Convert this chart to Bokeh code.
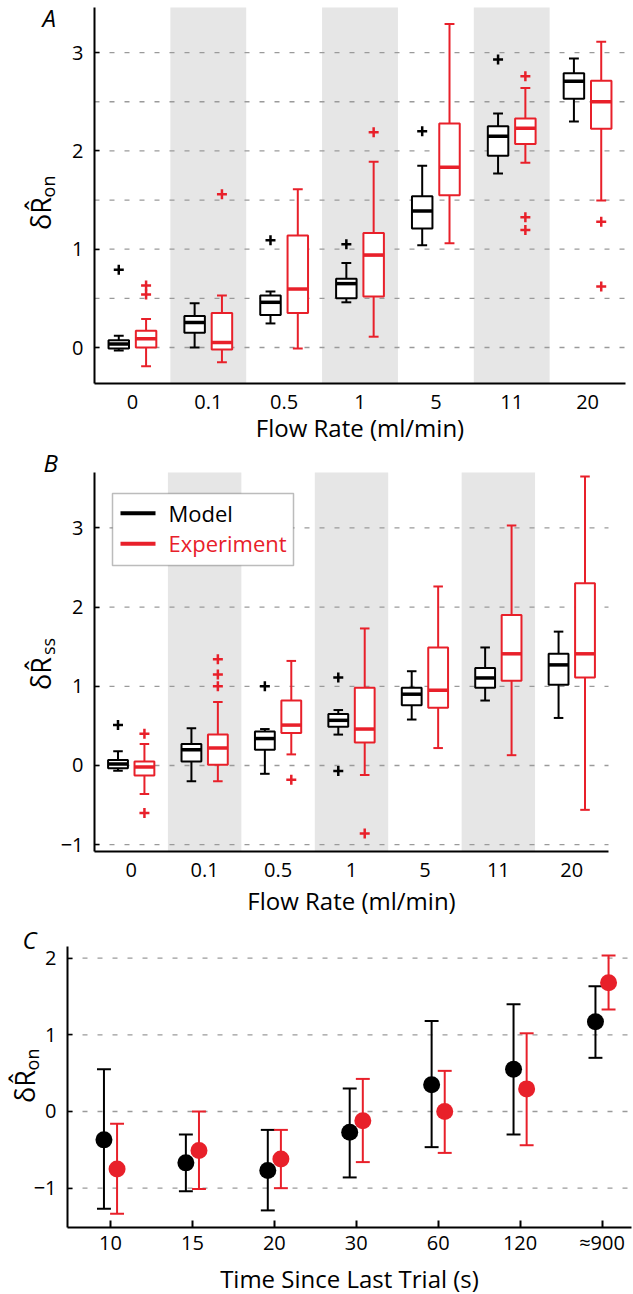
from math import pi
from bokeh.plotting import figure
from bokeh.models import Range1d, FixedTicker, BoxAnnotation, Label
from bokeh.layouts import column
from bokeh.embed import file_html
from bokeh.resources import INLINE

# ---------------- data ----------------
flow_rates = ["0", "0.1", "0.5", "1", "5", "11", "20"]

# Panel A  (dR_on vs flow rate) box statistics
a_model_lo = [-0.03, 0.00, 0.245, 0.46, 1.04, 1.77, 2.30]
a_model_q1 = [-0.01, 0.15, 0.33, 0.50, 1.21, 1.95, 2.53]
a_model_med = [0.035, 0.255, 0.46, 0.65, 1.39, 2.15, 2.71]
a_model_q3 = [0.075, 0.32, 0.53, 0.70, 1.54, 2.25, 2.79]
a_model_hi = [0.12, 0.45, 0.57, 0.86, 1.85, 2.38, 2.94]
a_model_out = [[0.79], [], [1.09], [1.05], [2.20], [2.93], []]

a_exp_lo = [-0.19, -0.15, -0.01, 0.11, 1.06, 1.88, 1.495]
a_exp_q1 = [0.00, -0.02, 0.35, 0.52, 1.55, 2.07, 2.225]
a_exp_med = [0.09, 0.05, 0.595, 0.94, 1.835, 2.23, 2.50]
a_exp_q3 = [0.17, 0.35, 1.14, 1.165, 2.28, 2.33, 2.715]
a_exp_hi = [0.29, 0.53, 1.61, 1.89, 3.29, 2.64, 3.11]
a_exp_out = [[0.54, 0.63], [1.56], [], [2.19], [], [2.76, 1.325, 1.196], [1.28, 0.62]]

# Panel B  (dR_ss vs flow rate)
b_model_lo = [-0.065, -0.20, -0.105, 0.39, 0.58, 0.82, 0.60]
b_model_q1 = [-0.035, 0.05, 0.20, 0.49, 0.76, 0.98, 1.02]
b_model_med = [0.02, 0.20, 0.34, 0.57, 0.90, 1.105, 1.27]
b_model_q3 = [0.07, 0.27, 0.43, 0.65, 0.98, 1.23, 1.41]
b_model_hi = [0.18, 0.47, 0.46, 0.70, 1.19, 1.49, 1.69]
b_model_out = [[0.51], [], [1.00], [1.11, -0.07], [], [], []]

b_exp_lo = [-0.36, -0.20, 0.14, -0.12, 0.22, 0.13, -0.56]
b_exp_q1 = [-0.125, 0.01, 0.41, 0.29, 0.73, 1.07, 1.11]
b_exp_med = [-0.02, 0.22, 0.51, 0.46, 0.95, 1.41, 1.41]
b_exp_q3 = [0.05, 0.39, 0.82, 0.98, 1.49, 1.90, 2.30]
b_exp_hi = [0.27, 0.80, 1.32, 1.73, 2.26, 3.03, 3.65]
b_exp_out = [[0.40, -0.60], [1.00, 1.15, 1.34], [-0.18], [-0.86], [], [], []]

# Panel C  (dR_on vs time since last trial)
times = ["10", "15", "20", "30", "60", "120", "\u2248900"]
c_model_mean = [-0.37, -0.67, -0.77, -0.27, 0.35, 0.55, 1.17]
c_model_lo = [-1.27, -1.04, -1.29, -0.86, -0.465, -0.30, 0.70]
c_model_hi = [0.55, -0.30, -0.24, 0.30, 1.18, 1.40, 1.635]
c_exp_mean = [-0.75, -0.51, -0.62, -0.12, 0.00, 0.295, 1.68]
c_exp_lo = [-1.335, -1.01, -1.00, -0.66, -0.54, -0.44, 1.33]
c_exp_hi = [-0.16, 0.00, -0.24, 0.425, 0.53, 1.02, 2.035]

# ---------------- style ----------------
BLACK = "#000000"
RED = "#e8202a"
BAND = "#e6e6e6"
GRID = "#9a9a9a"
FONT = "Open Sans"
TICK_PX = "20px"
W = 633


class Panel:
    """A figure whose frame covers the whole canvas; positions given in page pixels."""

    def __init__(self, top, bottom, box_px, xlim, ylim, yticks, grid_ticks, xlabels, x_tick_in, x_standoff):
        self.top = top
        self.h = height = bottom - top
        l, r, t, b = box_px            # plot box in page pixels
        t -= top
        b -= top
        (x0, x1), (y0, y1) = xlim, ylim
        kx = (x1 - x0) / (r - l)
        ky = (y1 - y0) / (b - t)
        xr = (x0 - l * kx, x0 + (W - l) * kx)
        yr = (y0 - (height - b) * ky, y1 + t * ky)
        p = figure(width=W, height=height, x_range=Range1d(*xr), y_range=Range1d(*yr),
                   output_backend="svg", toolbar_location=None,
                   min_border_left=0, min_border_right=0, min_border_top=0, min_border_bottom=0)
        p.outline_line_color = None
        p.background_fill_color = "white"
        p.border_fill_color = "white"
        p.xgrid.visible = False
        p.ygrid.visible = False
        # dashed horizontal grid lines across the plot box only
        p.segment(x0=[x0] * len(grid_ticks), x1=[x1] * len(grid_ticks), y0=grid_ticks, y1=grid_ticks,
                  line_color=GRID, line_dash="5 10", line_width=1.3, level="underlay")
        for ax in (p.xaxis[0], p.yaxis[0]):
            ax.axis_line_width = 2
            ax.axis_line_color = "black"
            ax.major_label_text_font = FONT
            ax.major_label_text_font_size = TICK_PX
            ax.major_label_text_color = "black"
            ax.minor_tick_line_color = None
            ax.major_tick_out = 0
        ya = p.yaxis[0]
        ya.fixed_location = x0
        ya.bounds = (y0, y1)
        ya.ticker = FixedTicker(ticks=yticks)
        ya.major_tick_in = 5
        ya.major_tick_line_width = 1.5
        ya.major_tick_line_color = "black"
        ya.major_label_standoff = 11
        ya.major_label_overrides = {tk: ("\u2212" + str(abs(tk)) if tk < 0 else str(tk)) for tk in yticks}
        xa = p.xaxis[0]
        xa.fixed_location = y0
        xa.bounds = (x0, x1)
        xa.ticker = FixedTicker(ticks=list(range(len(xlabels))))
        xa.major_label_overrides = {i: s for i, s in enumerate(xlabels)}
        xa.major_label_standoff = x_standoff
        if x_tick_in:
            xa.major_tick_in = x_tick_in
            xa.major_tick_line_width = 2
            xa.major_tick_line_color = "black"
        else:
            xa.major_tick_line_color = None
        self.p = p
        self.ylim = ylim

    def label(self, x, page_y, text, size, color="black", angle=0.0, align="left", style="normal"):
        # page_y: vertical centre of the text in page pixels
        self.p.add_layout(Label(x=x, y=self.h - (page_y - self.top), x_units="screen", y_units="screen",
                                text=text, text_font=FONT, text_font_size=f"{size}px", text_color=color,
                                angle=angle, text_align=align, text_baseline="middle",
                                text_font_style=style))

    def ylabel(self, x, junction, main, sub):
        # rotated label read bottom-to-top; main part below the junction, subscript above it
        self.label(x, junction + 16, main, 27, angle=pi / 2, align="center")
        self.label(x + 7, junction - 11, sub, 18, angle=pi / 2, align="center")

    def bands(self, n):
        y0, y1 = self.ylim
        for i in range(n):
            if i % 2 == 1:
                self.p.add_layout(BoxAnnotation(left=i - 0.5, right=i + 0.5, bottom=y0, top=y1,
                                                fill_color=BAND, fill_alpha=1.0, line_color=None,
                                                level="image"))

    def screen_box(self, l, r, t, b, fill, line=None, lw=1.0):
        self.p.add_layout(BoxAnnotation(left=l, right=r,
                                        top=self.h - (t - self.top), bottom=self.h - (b - self.top),
                                        left_units="screen", right_units="screen",
                                        top_units="screen", bottom_units="screen",
                                        fill_color=fill, fill_alpha=1.0, line_color=line, line_width=lw))


BW = 0.27   # box width (data units)
CAP = 0.13  # whisker cap width
OFF = 0.18  # model / experiment offset


def boxes(p, offset, lo, q1, med, q3, hi, outs, color):
    x = [i + offset for i in range(len(med))]
    xl = [v - BW / 2 for v in x]
    xr = [v + BW / 2 for v in x]
    cl = [v - CAP / 2 for v in x]
    cr = [v + CAP / 2 for v in x]
    p.segment(x0=x, y0=q3, x1=x, y1=hi, line_color=color, line_width=2)
    p.segment(x0=x, y0=lo, x1=x, y1=q1, line_color=color, line_width=2)
    p.segment(x0=cl, y0=hi, x1=cr, y1=hi, line_color=color, line_width=2)
    p.segment(x0=cl, y0=lo, x1=cr, y1=lo, line_color=color, line_width=2)
    p.quad(left=xl, right=xr, bottom=q1, top=q3, fill_color="white", line_color=color, line_width=2)
    p.segment(x0=xl, y0=med, x1=xr, y1=med, line_color=color, line_width=3.5)
    ox = [x[i] for i, o in enumerate(outs) for _ in o]
    oy = [v for o in outs for v in o]
    p.scatter(ox, oy, marker="cross", size=10, line_color=color, line_width=2.5)


SPLIT_AB = 444
SPLIT_BC = 920

# ---------------- Panel A ----------------
A = Panel(0, SPLIT_AB, (94, 625, 7, 383), (-0.5, 6.5), (-0.366, 3.459),
          [0, 1, 2, 3], [0, 0.5, 1, 1.5, 2, 2.5, 3], flow_rates, 0, 11)
A.bands(len(flow_rates))
boxes(A.p, -OFF, a_model_lo, a_model_q1, a_model_med, a_model_q3, a_model_hi, a_model_out, BLACK)
boxes(A.p, OFF, a_exp_lo, a_exp_q1, a_exp_med, a_exp_q3, a_exp_hi, a_exp_out, RED)
A.label(42, 17, "A", 24, style="italic")
A.label(359.5, 427, "Flow Rate (ml/min)", 24, align="center")
A.ylabel(40, 197, "\u03b4R\u0302", "on")

# ---------------- Panel B ----------------
B = Panel(SPLIT_AB, SPLIT_BC, (94, 608, 472, 851), (-0.5, 6.5), (-1.086, 3.699),
          [-1, 0, 1, 2, 3], [-1, 0, 1, 2, 3], flow_rates, 0, 11)
B.bands(len(flow_rates))
boxes(B.p, -OFF, b_model_lo, b_model_q1, b_model_med, b_model_q3, b_model_hi, b_model_out, BLACK)
boxes(B.p, OFF, b_exp_lo, b_exp_q1, b_exp_med, b_exp_q3, b_exp_hi, b_exp_out, RED)
B.label(43, 461.5, "B", 24, style="italic")
B.label(351, 900, "Flow Rate (ml/min)", 24, align="center")
B.ylabel(40, 657, "\u03b4R\u0302", "ss")
# legend
B.screen_box(112, 293, 493, 565, "white", line="#222222", lw=1.5)
B.screen_box(120, 155, 510.7, 514.7, BLACK)
B.screen_box(120, 155, 541.3, 545.3, RED)
B.label(168, 512.2, "Model", 22, color=BLACK)
B.label(168, 542.7, "Experiment", 22, color=RED)

# ---------------- Panel C ----------------
C = Panel(SPLIT_BC, 1294, (67, 631, 946, 1227), (-0.525, 6.36), (-1.513, 2.152),
          [-1, 0, 1, 2], [-1, 0, 1, 2], times, 7, 1)
COFF = 0.08
CCAP = 0.17
for sign, mean, lo, hi, color in ((-1, c_model_mean, c_model_lo, c_model_hi, BLACK),
                                  (1, c_exp_mean, c_exp_lo, c_exp_hi, RED)):
    x = [i + sign * COFF for i in range(len(mean))]
    cl = [v - CCAP / 2 for v in x]
    cr = [v + CCAP / 2 for v in x]
    C.p.segment(x0=x, y0=lo, x1=x, y1=hi, line_color=color, line_width=2)
    C.p.segment(x0=cl, y0=lo, x1=cr, y1=lo, line_color=color, line_width=2)
    C.p.segment(x0=cl, y0=hi, x1=cr, y1=hi, line_color=color, line_width=2)
    C.p.scatter(x, mean, marker="circle", size=17, fill_color=color, line_color=None)
C.label(22, 939, "C", 24, style="italic")
C.label(349, 1278, "Time Since Last Trial (s)", 24, align="center")
C.ylabel(24, 1070, "\u03b4R\u0302", "on")

layout = column(A.p, B.p, C.p)
open("out.html", "w").write(file_html(layout, INLINE))
